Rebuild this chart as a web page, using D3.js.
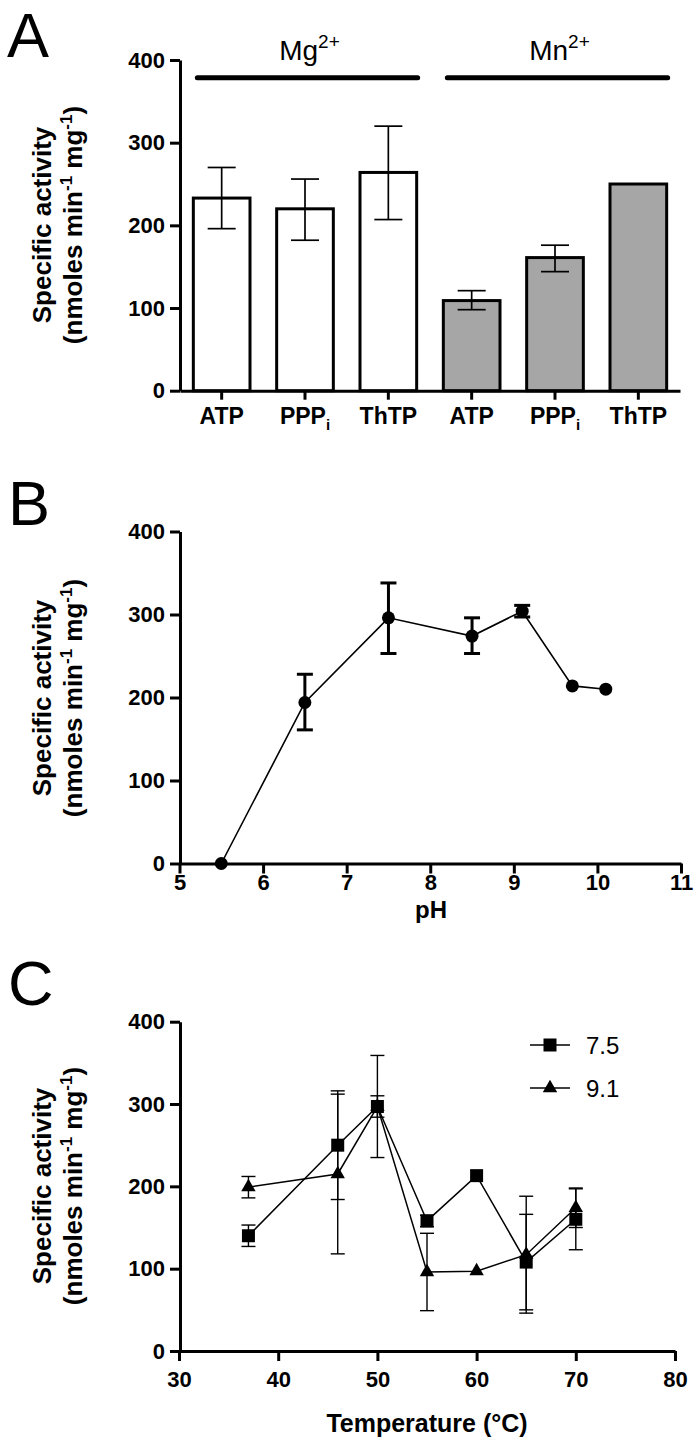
<!DOCTYPE html>
<html>
<head>
<meta charset="utf-8">
<script src="https://cdn.jsdelivr.net/npm/d3@7"></script>
<style>
  html, body { margin: 0; padding: 0; background: #fff; }
  svg { display: block; font-family: "Liberation Sans", Arial, Helvetica, sans-serif; }
</style>
</head>
<body>
<svg id="chart" width="698" height="1443"></svg>
<script>
// ---------- DATA ----------
// Panel A
const catBase = ["ATP", "PPP", "ThTP", "ATP", "PPP", "ThTP"];
const catSub = ["", "i", "", "", "i", ""];
const catGroup = ["Mg", "Mg", "Mg", "Mn", "Mn", "Mn"];
const barValues = [233, 220, 264, 109, 161, 250];
const barErrLow = [196, 182, 207, 98, 144, null];
const barErrHigh = [270, 256, 320, 121, 176, null];
const groupNames = ["Mg", "Mn"];
const groupSup = ["2+", "2+"];
const yTicks = [0, 100, 200, 300, 400];

// Panel B
const phX = [5.5, 6.5, 7.5, 8.5, 9.1, 9.7, 10.1];
const phY = [0, 194, 296, 274, 304, 214, 210];
const phLow = [null, 161, 253, 253, 297, null, null];
const phHigh = [null, 228, 338, 296, 311, null, null];
const phTicks = [5, 6, 7, 8, 9, 10, 11];

// Panel C
const temps = [37, 46, 50, 55, 60, 65, 70];
const act75 = [140, 250, 297, 158, 213, 108, 160];
const err75 = [13, 66, 13, 7, 0, 58, 37];
const act91 = [199, 215, 297, 96, 97, 117, 174];
const err91 = [13, 97, 62, 47, 0, 71, 24];
const seriesNames = ["7.5", "9.1"];
const tempTicks = [30, 40, 50, 60, 70, 80];

// ---------- DRAWING ----------
const svg = d3.select("#chart");
const FONT = "'Liberation Sans', Arial, Helvetica, sans-serif";

function styleAxis(g, fontSize) {
  g.select(".domain").attr("stroke", "#000").attr("stroke-width", 3);
  g.selectAll(".tick line").attr("stroke", "#000").attr("stroke-width", 3);
  g.selectAll(".tick text").attr("fill", "#000").attr("font-size", fontSize)
    .attr("font-weight", "bold").attr("font-family", FONT);
}

function yTitle(cx, cy) {
  const g = svg.append("g").attr("transform", `translate(${cx},${cy}) rotate(-90)`);
  g.append("text").attr("x", 0).attr("y", -31).attr("text-anchor", "middle")
    .attr("font-size", 26).attr("font-weight", "bold").text("Specific activity");
  const t = g.append("text").attr("x", 0).attr("y", 0).attr("text-anchor", "middle")
    .attr("font-size", 26).attr("font-weight", "bold");
  t.append("tspan").text("(nmoles min");
  t.append("tspan").attr("font-size", 17).attr("dy", -10).text("-1");
  t.append("tspan").attr("dy", 10).text(" mg");
  t.append("tspan").attr("font-size", 17).attr("dy", -10).text("-1");
  t.append("tspan").attr("dy", 10).text(")");
}

function panelLetter(txt, x, y) {
  svg.append("text").attr("x", x).attr("y", y).attr("font-size", 63)
    .attr("font-family", FONT).text(txt);
}

// ===== Panel A =====
{
  const x = d3.scaleBand().domain(d3.range(catBase.length)).range([180, 680])
    .paddingInner(0.32).paddingOuter(0.16);
  const y = d3.scaleLinear().domain([0, 400]).range([390.7, 60]);
  const g = svg.append("g");

  g.selectAll("rect.bar").data(barValues).join("rect")
    .attr("class", "bar")
    .attr("x", (d, i) => x(i))
    .attr("y", d => y(d))
    .attr("width", x.bandwidth())
    .attr("height", d => y(0) - y(d))
    .attr("fill", (d, i) => catGroup[i] === "Mg" ? "#ffffff" : "#a6a6a6")
    .attr("stroke", "#000").attr("stroke-width", 3);

  const capW = 28;
  barValues.forEach((v, i) => {
    if (barErrLow[i] == null) return;
    const cx = x(i) + x.bandwidth() / 2;
    g.append("line").attr("x1", cx).attr("x2", cx).attr("y1", y(barErrLow[i])).attr("y2", y(barErrHigh[i]))
      .attr("stroke", "#000").attr("stroke-width", 1.7);
    [barErrLow[i], barErrHigh[i]].forEach(e => {
      g.append("line").attr("x1", cx - capW / 2).attr("x2", cx + capW / 2).attr("y1", y(e)).attr("y2", y(e))
        .attr("stroke", "#000").attr("stroke-width", 1.7);
    });
  });

  const ya = g.append("g").attr("transform", "translate(180,0)")
    .call(d3.axisLeft(y).tickValues(yTicks).tickSize(10).tickPadding(5).tickSizeOuter(0));
  styleAxis(ya, 22);
  const xa = g.append("g").attr("transform", `translate(0,${y(0)})`)
    .call(d3.axisBottom(x).tickSize(9).tickPadding(8).tickSizeOuter(0).tickFormat(() => ""));
  styleAxis(xa, 23);
  xa.selectAll(".tick text").each(function (d) {
    const t = d3.select(this);
    t.text(null);
    t.append("tspan").text(catBase[d]);
    if (catSub[d]) t.append("tspan").attr("font-size", 15).attr("dy", 6).text(catSub[d]);
  });

  groupNames.forEach((gn, k) => {
    const idx = catGroup.map((c, i) => c === gn ? i : -1).filter(i => i >= 0);
    const x0 = x(idx[0]) + 4;
    const x1 = x(idx[idx.length - 1]) + x.bandwidth() + 1;
    g.append("line").attr("x1", x0).attr("x2", x1).attr("y1", 77.7).attr("y2", 77.7)
      .attr("stroke", "#000").attr("stroke-width", 5).attr("stroke-linecap", "round");
    const t = g.append("text").attr("x", (x0 + x1) / 2 + 2).attr("y", 60)
      .attr("text-anchor", "middle").attr("font-size", 28).attr("font-family", FONT);
    t.append("tspan").text(gn);
    t.append("tspan").attr("font-size", 19).attr("dy", -12).text(groupSup[k]);
  });

  yTitle(82, 225);
  panelLetter("A", 7, 57);
}

// ===== Panel B =====
{
  const x = d3.scaleLinear().domain([5, 11]).range([179.5, 681]);
  const y = d3.scaleLinear().domain([0, 400]).range([863.5, 531.5]);
  const g = svg.append("g");

  const ya = g.append("g").attr("transform", "translate(180,0)")
    .call(d3.axisLeft(y).tickValues(yTicks).tickSize(10).tickPadding(5).tickSizeOuter(0));
  styleAxis(ya, 22);
  const xa = g.append("g").attr("transform", `translate(0,${y(0)})`)
    .call(d3.axisBottom(x).tickValues(phTicks).tickSize(10).tickPadding(1).tickSizeOuter(0).tickFormat(d3.format("d")));
  styleAxis(xa, 22);

  const line = d3.line().x((d, i) => x(phX[i])).y(d => y(d));
  g.append("path").datum(phY).attr("d", line).attr("fill", "none")
    .attr("stroke", "#000").attr("stroke-width", 1.6);

  const capW = 16;
  phY.forEach((v, i) => {
    if (phLow[i] == null) return;
    const cx = x(phX[i]);
    g.append("line").attr("x1", cx).attr("x2", cx).attr("y1", y(phLow[i])).attr("y2", y(phHigh[i]))
      .attr("stroke", "#000").attr("stroke-width", 3);
    [phLow[i], phHigh[i]].forEach(e => {
      g.append("line").attr("x1", cx - capW / 2).attr("x2", cx + capW / 2).attr("y1", y(e)).attr("y2", y(e))
        .attr("stroke", "#000").attr("stroke-width", 3);
    });
  });

  g.selectAll("circle.pt").data(phY).join("circle").attr("class", "pt")
    .attr("cx", (d, i) => x(phX[i])).attr("cy", d => y(d)).attr("r", 6.5).attr("fill", "#000");

  g.append("text").attr("x", 431).attr("y", 918).attr("text-anchor", "middle")
    .attr("font-size", 24).attr("font-weight", "bold").text("pH");

  yTitle(82, 698);
  panelLetter("B", 8, 525);
}

// ===== Panel C =====
{
  const x = d3.scaleLinear().domain([30, 80]).range([179, 675]);
  const y = d3.scaleLinear().domain([0, 400]).range([1351, 1021.7]);
  const g = svg.append("g");

  const ya = g.append("g").attr("transform", "translate(180,0)")
    .call(d3.axisLeft(y).tickValues(yTicks).tickSize(10).tickPadding(5).tickSizeOuter(0));
  styleAxis(ya, 22);
  const xa = g.append("g").attr("transform", `translate(0,${y(0)})`)
    .call(d3.axisBottom(x).tickValues(tempTicks).tickSize(10).tickPadding(10).tickSizeOuter(0).tickFormat(d3.format("d")));
  styleAxis(xa, 22);

  const series = [
    { vals: act75, errs: err75, sym: d3.symbolSquare, size: 169 },
    { vals: act91, errs: err91, sym: d3.symbolTriangle, size: 90 }
  ];
  const line = d3.line().x((d, i) => x(temps[i])).y(d => y(d));
  const capW = 14;

  series.forEach(s => {
    g.append("path").datum(s.vals).attr("d", line).attr("fill", "none")
      .attr("stroke", "#000").attr("stroke-width", 1.5);
    s.vals.forEach((v, i) => {
      if (!s.errs[i]) return;
      const cx = x(temps[i]);
      const lo = v - s.errs[i], hi = v + s.errs[i];
      g.append("line").attr("x1", cx).attr("x2", cx).attr("y1", y(lo)).attr("y2", y(hi))
        .attr("stroke", "#000").attr("stroke-width", 1.4);
      [lo, hi].forEach(e => {
        g.append("line").attr("x1", cx - capW / 2).attr("x2", cx + capW / 2).attr("y1", y(e)).attr("y2", y(e))
          .attr("stroke", "#000").attr("stroke-width", 1.4);
      });
    });
  });
  series.forEach(s => {
    g.selectAll(null).data(s.vals).join("path")
      .attr("transform", (d, i) => `translate(${x(temps[i])},${y(d)})`)
      .attr("d", d3.symbol().type(s.sym).size(s.size)()).attr("fill", "#000");
  });

  seriesNames.forEach((nm, k) => {
    const ly = 1045 + k * 43;
    g.append("line").attr("x1", 530).attr("x2", 570).attr("y1", ly).attr("y2", ly)
      .attr("stroke", "#000").attr("stroke-width", 1.5);
    g.append("path").attr("transform", `translate(550,${ly})`)
      .attr("d", d3.symbol().type(series[k].sym).size(series[k].size)()).attr("fill", "#000");
    g.append("text").attr("x", 586).attr("y", ly + 9).attr("font-size", 24).text(nm);
  });

  g.append("text").attr("x", 427).attr("y", 1432).attr("text-anchor", "middle")
    .attr("font-size", 25).attr("font-weight", "bold").text("Temperature (°C)");

  yTitle(82, 1186);
  panelLetter("C", 8, 1005);
}
</script>
</body>
</html>
